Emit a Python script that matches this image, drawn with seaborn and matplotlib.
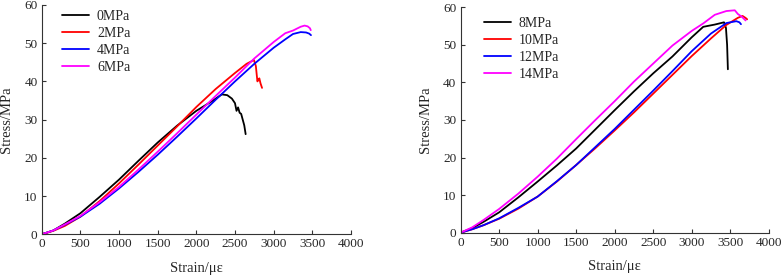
import seaborn as sns
import matplotlib.pyplot as plt
import pandas as pd

# Left panel: confining pressure 0-6 MPa
strain_0 = [0, 150, 300, 500, 750, 1000, 1250, 1500, 1750, 2000, 2200, 2330, 2400, 2460, 2500, 2520, 2540, 2560, 2580, 2600, 2620, 2638]
stress_0 = [0, 1.0, 2.8, 5.5, 9.8, 14.3, 19.2, 24.0, 28.4, 32.3, 34.8, 36.6, 36.4, 35.5, 34.3, 32.3, 33.2, 31.8, 31.5, 30.0, 28.5, 26.2]
strain_2 = [0, 150, 300, 500, 750, 1000, 1250, 1500, 1750, 2000, 2250, 2500, 2650, 2745, 2770, 2780, 2790, 2800, 2815, 2830, 2850]
stress_2 = [0, 0.9, 2.2, 4.6, 8.7, 13.3, 18.2, 23.2, 28.2, 33.3, 38.0, 42.2, 44.6, 45.6, 44.0, 42.0, 40.0, 40.3, 40.8, 39.5, 38.3]
strain_4 = [0, 150, 300, 500, 750, 1000, 1250, 1500, 1750, 2000, 2250, 2500, 2750, 3000, 3150, 3250, 3350, 3420, 3460, 3483]
stress_4 = [0, 1.0, 2.5, 4.6, 8.0, 12.0, 16.3, 20.8, 25.5, 30.3, 35.2, 40.0, 44.6, 48.8, 51.0, 52.4, 52.9, 52.8, 52.5, 52.1]
strain_6 = [0, 150, 300, 500, 750, 1000, 1250, 1500, 1750, 2000, 2250, 2500, 2750, 3000, 3150, 3250, 3350, 3400, 3440, 3470, 3480]
stress_6 = [0, 1.0, 2.6, 4.8, 8.4, 12.4, 16.9, 21.6, 26.4, 31.3, 36.2, 41.0, 46.0, 50.3, 52.6, 53.3, 54.3, 54.6, 54.4, 53.9, 53.4]

# Right panel: confining pressure 8-14 MPa
strain_8 = [0, 150, 300, 500, 750, 1000, 1250, 1500, 1750, 2000, 2250, 2500, 2750, 3000, 3150, 3300, 3420, 3445, 3460, 3470]
stress_8 = [0, 1.2, 2.9, 5.4, 9.4, 13.6, 17.9, 22.4, 27.5, 32.6, 37.6, 42.4, 46.9, 52.0, 54.8, 55.4, 56.0, 54.5, 50.0, 43.5]
strain_10 = [0, 150, 300, 500, 750, 1000, 1250, 1500, 1750, 2000, 2250, 2500, 2750, 3000, 3250, 3450, 3600, 3660, 3690, 3710, 3720]
stress_10 = [0, 0.9, 2.0, 3.7, 6.4, 9.6, 13.6, 18.0, 22.5, 27.2, 32.0, 37.0, 42.0, 47.0, 51.7, 55.3, 57.2, 57.7, 57.3, 57.0, 56.8]
strain_12 = [0, 150, 300, 500, 750, 1000, 1250, 1500, 1750, 2000, 2250, 2500, 2750, 3000, 3250, 3450, 3580, 3620, 3640]
stress_12 = [0, 0.9, 2.0, 3.8, 6.6, 9.6, 13.7, 18.0, 22.8, 27.6, 32.7, 37.8, 43.0, 48.3, 53.0, 55.8, 56.3, 56.0, 55.5]
strain_14 = [0, 150, 300, 500, 750, 1000, 1250, 1500, 1750, 2000, 2250, 2500, 2750, 3000, 3150, 3300, 3450, 3560, 3600, 3650, 3700]
stress_14 = [0, 1.4, 3.4, 6.3, 10.4, 14.9, 19.7, 24.9, 30.0, 35.0, 40.2, 45.0, 49.8, 53.7, 55.7, 58.0, 59.0, 59.2, 58.2, 57.5, 56.5]

left_curves = {"0MPa": (strain_0, stress_0), "2MPa": (strain_2, stress_2),
               "4MPa": (strain_4, stress_4), "6MPa": (strain_6, stress_6)}
right_curves = {"8MPa": (strain_8, stress_8), "10MPa": (strain_10, stress_10),
                "12MPa": (strain_12, stress_12), "14MPa": (strain_14, stress_14)}
colors = ["#000000", "#ff0000", "#0000ff", "#ff00ff"]


def to_frame(curves):
    rows = []
    for name, (xs, ys) in curves.items():
        for x, y in zip(xs, ys):
            rows.append({"Strain": x, "Stress": y, "Pressure": name})
    return pd.DataFrame(rows)


sns.set_style("ticks")
plt.rcParams['font.family'] = ['Liberation Serif', 'DejaVu Serif']
plt.rcParams['xtick.direction'] = 'in'
plt.rcParams['ytick.direction'] = 'in'

fig = plt.figure(figsize=(7.82, 2.75), dpi=100)
ax1 = fig.add_axes([0.0533, 0.148, 0.3955, 0.834])
ax2 = fig.add_axes([0.589, 0.154, 0.394, 0.8195])

for ax, curves, anchor in [(ax1, left_curves, (0.035, 1.02)), (ax2, right_curves, (0.045, 1.0))]:
    df = to_frame(curves)
    sns.lineplot(data=df, x="Strain", y="Stress", hue="Pressure", palette=colors,
                 sort=False, estimator=None, linewidth=1.3, ax=ax)
    ax.set_xlim(0, 4000)
    ax.set_ylim(0, 60)
    ax.set_xticks(range(0, 4001, 500))
    ax.set_yticks(range(0, 61, 10))
    ax.tick_params(labelsize=9.5, length=3, width=0.8, color="#333333", pad=3)
    for s in ["top", "right"]:
        ax.spines[s].set_visible(False)
    for s in ["left", "bottom"]:
        ax.spines[s].set_linewidth(0.8)
        ax.spines[s].set_color("#333333")
    ax.set_xlabel("Strain/με", fontsize=10.5, labelpad=8)
    ax.set_ylabel("Stress/MPa", fontsize=10.5, labelpad=8)
    leg = ax.legend(loc="upper left", frameon=False, fontsize=10, handlelength=1.9,
                    handletextpad=0.6, labelspacing=0.28, bbox_to_anchor=anchor,
                    borderaxespad=0.3)
    leg.set_title(None)

fig.savefig("out.png", dpi=100)
